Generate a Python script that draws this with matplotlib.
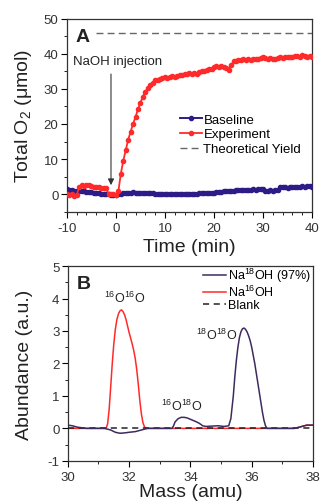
import numpy as np
import matplotlib
matplotlib.use("Agg")
import matplotlib.pyplot as plt
from matplotlib.ticker import MultipleLocator

plt.rcParams['font.family'] = ['Liberation Sans', 'DejaVu Sans']
plt.rcParams['mathtext.fontset'] = 'custom'
plt.rcParams['mathtext.rm'] = 'Liberation Sans'
plt.rcParams['axes.unicode_minus'] = False

# ---------------------------------------------------------
# Panel A data: total O2 vs time
# ---------------------------------------------------------
time_min = np.arange(-10, 40.01, 0.5)

experiment = [
    0.0, -0.2, 0.0, -0.5, -0.3, 2.2, 2.5, 2.4, 2.5, 2.5,
    2.3, 2.0, 2.1, 2.0, 1.9, 1.7, 1.8, 0.2, 0.0, 0.1,
    -0.3, 0.8, 5.8, 9.5, 12.5, 15.5, 17.8, 20.0, 22.0, 24.2,
    26.0, 27.8, 29.2, 30.2, 31.2, 31.8, 32.4, 32.6, 32.9, 33.0,
    33.5, 33.2, 33.3, 33.6, 33.4, 33.6, 33.9, 34.0, 34.2, 34.3,
    34.5, 34.3, 34.6, 34.2, 34.8, 35.0, 35.0, 35.4, 35.6, 35.6,
    36.2, 36.4, 36.3, 36.5, 36.2, 35.8, 35.4, 36.8, 37.8, 38.0,
    38.3, 38.2, 38.4, 38.3, 38.5, 38.2, 38.4, 38.6, 38.5, 38.9,
    39.0, 38.8, 38.6, 38.7, 38.5, 38.6, 38.9, 39.0, 38.8, 39.1,
    39.0, 39.2, 39.0, 39.3, 39.4, 39.2, 39.5, 39.4, 39.2, 39.3,
    39.0,
]

baseline = [
    1.5, 1.3, 1.2, 1.0, 1.0, 0.9, 0.8, 0.8, 0.7, 0.6,
    0.6, 0.5, 0.4, 0.3, 0.2, 0.2, 0.1, 0.0, -0.1, -0.3,
    -0.3, 0.0, 0.2, 0.3, 0.4, 0.5, 0.5, 0.6, 0.5, 0.5,
    0.4, 0.5, 0.4, 0.3, 0.4, 0.3, 0.2, 0.1, 0.1, 0.0,
    0.0, 0.1, 0.0, 0.0, 0.0, 0.1, 0.0, 0.0, 0.1, 0.0,
    0.1, 0.1, 0.2, 0.2, 0.3, 0.3, 0.3, 0.4, 0.5, 0.5,
    0.5, 0.6, 0.7, 0.6, 0.8, 0.9, 0.8, 1.0, 1.0, 1.1,
    1.2, 1.1, 1.2, 1.3, 1.2, 1.3, 1.4, 1.3, 1.4, 1.5,
    1.5, 1.0, 1.0, 1.1, 1.0, 1.2, 1.3, 2.0, 2.0, 2.0,
    1.9, 2.0, 2.1, 2.0, 2.1, 2.2, 2.3, 2.2, 2.4, 2.3,
    2.2,
]

theory_x = [-4, 40]
theory_y = [46, 46]

# ---------------------------------------------------------
# Panel B data: mass spectra
# ---------------------------------------------------------
m16 = [30.0, 31.0, 31.25, 31.3, 31.35, 31.4, 31.45, 31.5, 31.55, 31.6,
       31.65, 31.7, 31.75, 31.8, 31.85, 31.9, 31.95, 32.0, 32.05, 32.1,
       32.15, 32.2, 32.25, 32.3, 32.35, 32.4, 32.45, 32.5, 32.55, 37.4,
       37.6, 37.8, 38.0]
a16 = [0.0, 0.0, 0.0, 0.15, 0.6, 1.3, 2.0, 2.6, 3.05, 3.35,
       3.52, 3.62, 3.65, 3.6, 3.5, 3.35, 3.15, 2.95, 2.78, 2.6,
       2.4, 2.15, 1.8, 1.35, 0.85, 0.45, 0.18, 0.05, 0.0, 0.0,
       0.05, 0.1, 0.1]

m18 = [30.0, 30.15, 30.3, 30.6, 31.2, 31.4, 31.55, 31.7, 31.85, 32.0,
       32.2, 32.4, 32.6, 33.4, 33.45, 33.5, 33.6, 33.7, 33.8, 33.9,
       34.0, 34.1, 34.2, 34.3, 34.4, 34.5, 34.7, 34.9, 35.1, 35.25,
       35.32, 35.4, 35.45, 35.5, 35.55, 35.6, 35.65, 35.7, 35.75, 35.8,
       35.85, 35.9, 35.95, 36.0, 36.05, 36.1, 36.15, 36.2, 36.25, 36.3,
       36.35, 36.4, 36.45, 36.5, 37.4, 37.6, 37.8, 38.0]
a18 = [0.1, 0.08, 0.04, 0.0, 0.0, -0.05, -0.12, -0.15, -0.14, -0.12,
       -0.1, -0.05, 0.0, 0.0, 0.08, 0.2, 0.3, 0.34, 0.34, 0.32,
       0.28, 0.24, 0.2, 0.15, 0.08, 0.06, 0.07, 0.08, 0.06, 0.08,
       0.3, 1.0, 1.6, 2.1, 2.5, 2.8, 2.98, 3.07, 3.09, 3.05,
       2.97, 2.85, 2.7, 2.5, 2.25, 2.0, 1.7, 1.4, 1.1, 0.8,
       0.5, 0.25, 0.08, 0.0, 0.0, 0.05, 0.1, 0.1]

blank_x = [30.0, 38.0]
blank_y = [0.0, 0.0]

peak_labels = [r'$^{16}$O$^{16}$O', r'$^{16}$O$^{18}$O', r'$^{18}$O$^{18}$O']
peak_pos = [(31.85, 4.04), (33.7, 0.72), (34.84, 2.88)]

# ---------------------------------------------------------
# Figure
# ---------------------------------------------------------
fig = plt.figure(figsize=(3.23, 5.02), dpi=100)
axA = fig.add_axes([0.207, 0.576, 0.759, 0.385])
axB = fig.add_axes([0.21, 0.080, 0.759, 0.388])

navy = "#2d1b87"
red = "#ff2a2a"
purple = "#3d2b5e"
txt = "#222222"

axA.plot(time_min, baseline, color=navy, marker='o', markersize=3.0,
         linewidth=1.4, label="Baseline", zorder=3)
axA.plot(time_min, experiment, color=red, marker='o', markersize=3.0,
         linewidth=1.3, label="Experiment", zorder=4)
axA.plot(theory_x, theory_y, color="#666666", linestyle=(0, (5, 3)),
         linewidth=1.0, label="Theoretical Yield")

axA.annotate("", xy=(-1, 1.8), xytext=(-1, 35),
             arrowprops=dict(arrowstyle="-|>", color="#333333", lw=0.8,
                             mutation_scale=9))
axA.text(-8.8, 38.0, "NaOH injection", fontsize=9.5, va="center", ha="left",
         color=txt)
axA.text(0.035, 0.905, "A", transform=axA.transAxes, fontsize=14,
         fontweight="bold", va="center", ha="left", color=txt)

axA.set_xlim(-10, 40)
axA.set_ylim(-5, 50)
axA.xaxis.set_major_locator(MultipleLocator(10))
axA.xaxis.set_minor_locator(MultipleLocator(2))
axA.yaxis.set_major_locator(MultipleLocator(10))
axA.yaxis.set_minor_locator(MultipleLocator(5))
axA.set_xlabel("Time (min)", fontsize=14, labelpad=3, color=txt)
axA.set_ylabel("Total O$_2$ (\u03bcmol)", fontsize=14, labelpad=7, color=txt)

axA.legend(loc="upper left", bbox_to_anchor=(0.46, 0.51),
           frameon=False, fontsize=9.5, handlelength=1.7,
           handletextpad=0.1, labelspacing=0.2, borderpad=0,
           borderaxespad=0)

axB.plot(m16, a16, color=red, linewidth=1.1, label=r"Na$^{16}$OH", zorder=2)
axB.plot(m18, a18, color=purple, linewidth=1.1, label=r"Na$^{18}$OH (97%)",
         zorder=4)
axB.plot(blank_x, blank_y, color="#222222", linestyle=(0, (4, 3)),
         linewidth=1.1, label="Blank", zorder=3)

for lab, (px, py) in zip(peak_labels, peak_pos):
    axB.text(px, py, lab, fontsize=9, ha="center", va="center", color=txt)
axB.text(0.035, 0.91, "B", transform=axB.transAxes, fontsize=14,
         fontweight="bold", va="center", ha="left", color=txt)

axB.set_xlim(30, 38)
axB.set_ylim(-1, 5)
axB.xaxis.set_major_locator(MultipleLocator(2))
axB.xaxis.set_minor_locator(MultipleLocator(1))
axB.yaxis.set_major_locator(MultipleLocator(1))
axB.yaxis.set_minor_locator(MultipleLocator(0.5))
axB.set_xlabel("Mass (amu)", fontsize=14, labelpad=0, color=txt)
axB.set_ylabel("Abundance (a.u.)", fontsize=14, labelpad=10.5, color=txt)

h, l = axB.get_legend_handles_labels()
order = [1, 0, 2]
axB.legend([h[i] for i in order], [l[i] for i in order], loc="upper right",
           bbox_to_anchor=(0.99, 1.0), frameon=False, fontsize=9,
           handlelength=1.9, handletextpad=0.1, labelspacing=0.0,
           borderpad=0, borderaxespad=0)

for ax in (axA, axB):
    ax.tick_params(which="both", direction="out", labelsize=9.5,
                   top=False, right=False, labelcolor="#333333")
    ax.tick_params(axis="x", which="both", pad=3.5)
    ax.tick_params(axis="y", which="both", pad=2)
    ax.tick_params(which="major", length=4, width=0.8)
    ax.tick_params(which="minor", length=2.2, width=0.6)
    for s in ax.spines.values():
        s.set_linewidth(0.9)
        s.set_color("#333333")

fig.savefig("out.png", dpi=100)
